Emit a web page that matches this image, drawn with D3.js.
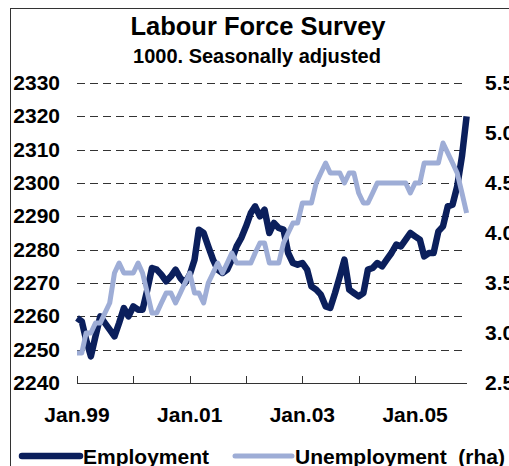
<!DOCTYPE html>
<html>
<head>
<meta charset="utf-8">
<script src="https://cdn.jsdelivr.net/npm/d3@7"></script>
<style>
  body { margin: 0; background: #fff; }
  svg text { font-family: "Liberation Sans", Arial, sans-serif; font-weight: bold; fill: #000; }
</style>
</head>
<body>
<div id="chart"></div>
<script>
// monthly, Jan 1999 - Dec 2005
const startMonth = new Date(1999, 0, 1);
const endMonth = new Date(2005, 11, 1);
const months = d3.timeMonth.range(startMonth, new Date(2006, 0, 1));

// employment, 1000 persons (left axis)
const employment = [
  2259.5, 2258.5, 2253, 2248, 2254, 2260, 2258, 2256, 2254, 2258, 2262.5, 2260,
  2263, 2262, 2262, 2268, 2274.5, 2274, 2272.5, 2270.5, 2272, 2274, 2271.5, 2270,
  2272.5, 2277, 2286, 2285, 2281, 2277, 2274, 2273, 2274, 2277, 2281, 2283.5,
  2287, 2291, 2293, 2290, 2292, 2285, 2288, 2286.5, 2286, 2279, 2276, 2275.5,
  2276, 2274, 2269, 2268, 2266.5, 2263, 2262.5, 2267, 2272, 2277, 2268, 2267,
  2266, 2267, 2274, 2274.5, 2276, 2275, 2277, 2279, 2281.5, 2281, 2283, 2285,
  2284, 2283, 2278, 2279, 2279, 2285.5, 2287, 2293, 2293.5, 2299, 2308, 2320
];

// unemployment, per cent (right axis)
const unemployment = [
  2.8, 2.8, 3.0, 3.0, 3.1, 3.1, 3.2, 3.3, 3.6, 3.7, 3.6, 3.6,
  3.6, 3.7, 3.6, 3.4, 3.2, 3.2, 3.3, 3.4, 3.4, 3.3, 3.4, 3.5,
  3.6, 3.4, 3.4, 3.3, 3.5, 3.6, 3.7, 3.6, 3.7, 3.8, 3.7, 3.7,
  3.7, 3.7, 3.8, 3.9, 3.9, 3.7, 3.7, 3.7, 3.9, 4.0, 4.1, 4.1,
  4.3, 4.3, 4.3, 4.5, 4.6, 4.7, 4.6, 4.6, 4.6, 4.5, 4.6, 4.6,
  4.4, 4.3, 4.3, 4.4, 4.5, 4.5, 4.5, 4.5, 4.5, 4.5, 4.5, 4.4,
  4.5, 4.5, 4.7, 4.7, 4.7, 4.7, 4.9, 4.8, 4.7, 4.6, 4.4, 4.2
];

const leftTicks = [2240, 2250, 2260, 2270, 2280, 2290, 2300, 2310, 2320, 2330];
const rightTicks = [2.5, 3.0, 3.5, 4.0, 4.5, 5.0, 5.5];
const xLabels = ["Jan.99", "Jan.01", "Jan.03", "Jan.05"];
const xLabelDates = [new Date(1999, 0, 1), new Date(2001, 0, 1), new Date(2003, 0, 1), new Date(2005, 0, 1)];
const seriesNames = ["Employment", "Unemployment  (rha)"];
const colors = ["#0b1f5c", "#9eadd6"];

const width = 509, height = 466;
const svg = d3.select("#chart").append("svg")
  .attr("width", width)
  .attr("height", height);

svg.append("rect")
  .attr("x", 10.5).attr("y", 8.5)
  .attr("width", 530).attr("height", 480)
  .attr("fill", "#fff")
  .attr("stroke", "#333");

let x = d3.scaleTime().domain([startMonth, endMonth]).range([77, 466.6]);
let yL = d3.scaleLinear().domain([2240, 2330]).range([383, 83]);
let yR = d3.scaleLinear().domain([2.5, 5.5]).range([383, 83]);

// titles
svg.append("text")
  .attr("x", 258).attr("y", 35)
  .attr("text-anchor", "middle")
  .attr("font-size", "25.5px")
  .text("Labour Force Survey");
svg.append("text")
  .attr("x", 257).attr("y", 63)
  .attr("text-anchor", "middle")
  .attr("font-size", "20px")
  .text("1000. Seasonally adjusted");

// gridlines
svg.append("g").selectAll("line")
  .data(leftTicks.slice(1))
  .enter().append("line")
  .attr("x1", 77).attr("x2", 467)
  .attr("y1", d => Math.round(yL(d)) + 0.5)
  .attr("y2", d => Math.round(yL(d)) + 0.5)
  .attr("stroke", "#333")
  .attr("stroke-dasharray", "8,5");

// left labels
svg.append("g").selectAll("text")
  .data(leftTicks)
  .enter().append("text")
  .attr("x", 60)
  .attr("y", d => yL(d) + 7)
  .attr("text-anchor", "end")
  .attr("font-size", "21px")
  .text(d => d);

// right labels
svg.append("g").selectAll("text")
  .data(rightTicks)
  .enter().append("text")
  .attr("x", 485)
  .attr("y", d => yR(d) + 7)
  .attr("font-size", "21px")
  .text(d => d.toFixed(1));

// x axis
svg.append("line")
  .attr("x1", 77).attr("x2", 467)
  .attr("y1", 383.5).attr("y2", 383.5)
  .attr("stroke", "#333");
svg.append("g").selectAll("line")
  .data(d3.timeYear.range(startMonth, endMonth))
  .enter().append("line")
  .attr("x1", d => Math.round(x(d)) + 0.5)
  .attr("x2", d => Math.round(x(d)) + 0.5)
  .attr("y1", 376).attr("y2", 383.5)
  .attr("stroke", "#333");
svg.append("g").selectAll("text")
  .data(xLabels)
  .enter().append("text")
  .attr("x", (d, i) => x(xLabelDates[i]))
  .attr("y", 422)
  .attr("text-anchor", "middle")
  .attr("font-size", "21px")
  .text(d => d);

// series
let lineL = d3.line().x((d, i) => x(months[i])).y(d => yL(d));
let lineR = d3.line().x((d, i) => x(months[i])).y(d => yR(d));

svg.append("path")
  .attr("d", lineL(employment))
  .attr("fill", "none")
  .attr("stroke", colors[0])
  .attr("stroke-width", 6.5)
  .attr("stroke-linejoin", "round");
svg.append("path")
  .attr("d", lineR(unemployment))
  .attr("fill", "none")
  .attr("stroke", colors[1])
  .attr("stroke-width", 5)
  .attr("stroke-linejoin", "round");

// legend
let legendX = [[22, 80, 83], [235, 292, 295]];
let legend = svg.append("g").selectAll("g")
  .data(seriesNames)
  .enter().append("g");
legend.append("line")
  .attr("x1", (d, i) => legendX[i][0])
  .attr("x2", (d, i) => legendX[i][1])
  .attr("y1", 456).attr("y2", 456)
  .attr("stroke", (d, i) => colors[i])
  .attr("stroke-width", (d, i) => i === 0 ? 6.5 : 5)
  .attr("stroke-linecap", "round");
legend.append("text")
  .attr("x", (d, i) => legendX[i][2])
  .attr("y", 463.5)
  .attr("font-size", "21px")
  .style("white-space", "pre")
  .text(d => d);
</script>
</body>
</html>
